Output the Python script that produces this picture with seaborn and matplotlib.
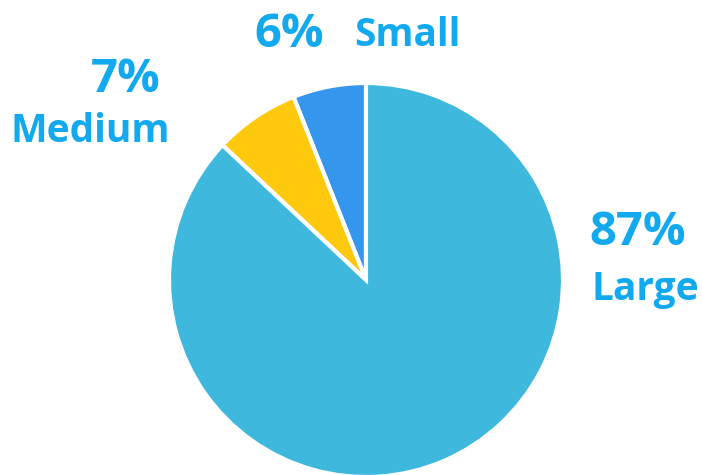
import matplotlib
matplotlib.use("Agg")
import matplotlib.pyplot as plt
import seaborn as sns

# 数据
categories = ["Small", "Medium", "Large"]
shares = [6, 7, 87]
slice_colors = ["#3596EE", "#FEC80C", "#3EB8DD"]

sns.set_theme(style="white")
plt.rcParams["font.family"] = ["Open Sans", "DejaVu Sans"]

text_color = "#12A9EE"

fig = plt.figure(figsize=(7.02, 4.75), dpi=100)
# 饼图中心约在 (366, 280) px，半径约 197 px
W, H = 702, 475
cx, cy, r = 366, 280, 197
ax = fig.add_axes([(cx - r) / W, 1 - (cy + r) / H, 2 * r / W, 2 * r / H])

wedges, _ = ax.pie(
    shares,
    colors=slice_colors,
    startangle=90,
    counterclock=True,
    radius=1,
    wedgeprops=dict(edgecolor="white", linewidth=3),
)
ax.set_xlim(-1, 1)
ax.set_ylim(-1, 1)
ax.set_aspect("equal")
ax.axis("off")


def px(x, y):
    return (x - cx) / r, (cy - y) / r


# 标签位置（像素），百分比 + 类别名
pct_pos = {"Small": (289, 47), "Medium": (126, 92), "Large": (638, 245)}
name_pos = {"Small": (407, 46), "Medium": (90, 142), "Large": (645, 300)}

for cat, val in zip(categories, shares):
    x, y = px(*pct_pos[cat])
    ax.text(x, y, f"{val}%", ha="center", va="baseline", fontsize=34,
            fontweight="bold", color=text_color, clip_on=False)
    x, y = px(*name_pos[cat])
    ax.text(x, y, cat, ha="center", va="baseline", fontsize=28,
            fontweight="bold", color=text_color, clip_on=False)

fig.savefig("out.png", dpi=100)
